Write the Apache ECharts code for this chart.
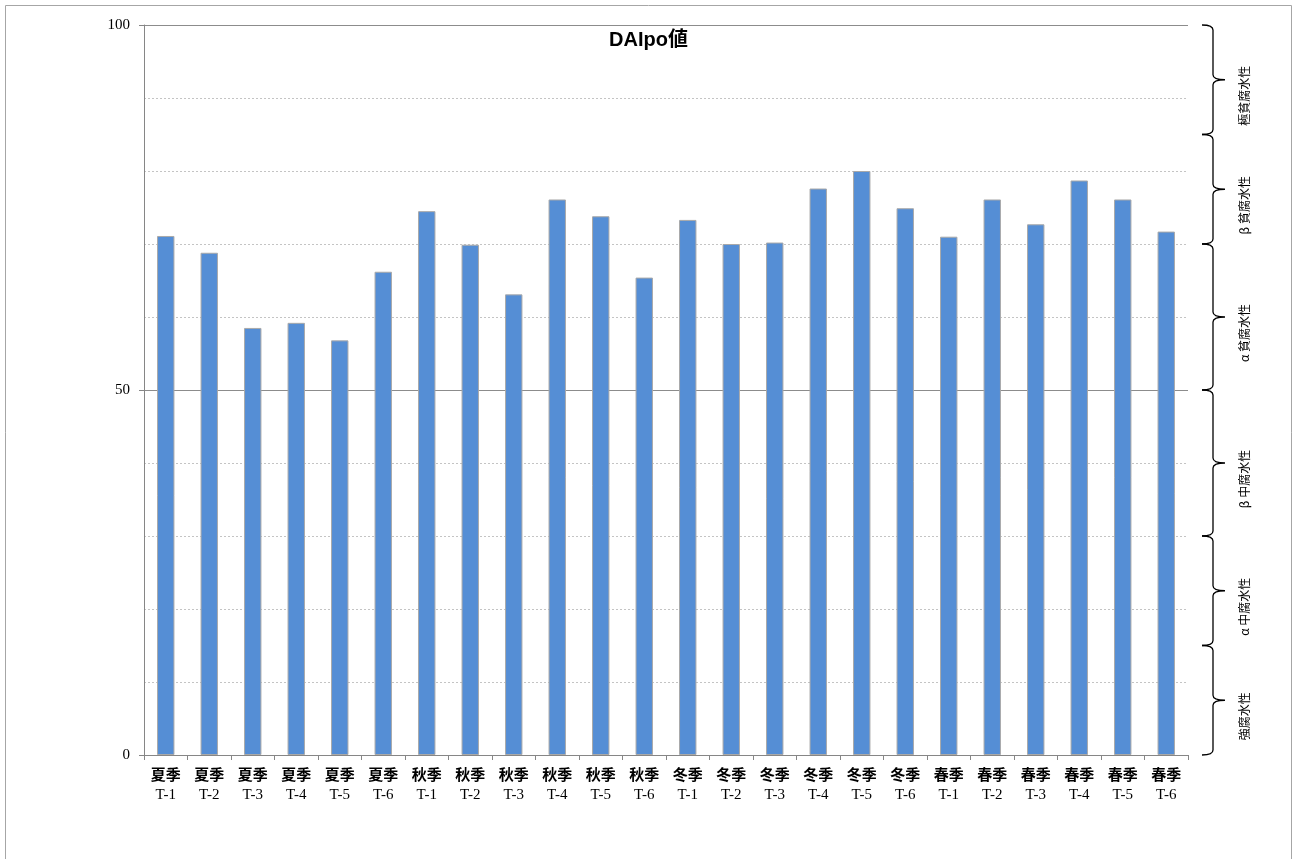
<!DOCTYPE html>
<html><head><meta charset="utf-8">
<script src="https://cdn.jsdelivr.net/npm/echarts@6/dist/echarts.min.js"></script>
<style>html,body{margin:0;padding:0;background:#fff}#c{width:1297px;height:859px}</style>
</head><body><div id="c"></div>
<script>
const seasons = ['夏季', '秋季', '冬季', '春季'];
const stations = ['T-1', 'T-2', 'T-3', 'T-4', 'T-5', 'T-6'];
const values = [
  71.1, 68.8, 58.5, 59.2, 56.8, 66.2,
  74.5, 69.9, 63.1, 76.1, 73.8, 65.4,
  73.3, 70.0, 70.2, 77.6, 80.0, 74.9,
  71.0, 76.1, 72.7, 78.7, 76.1, 71.7
];
const yTickLabels = [0, 50, 100];
const zoneBounds = [100, 85, 70, 50, 30, 15, 0];
const zoneNames = ['極貧腐水性', 'β 貧腐水性', 'α 貧腐水性', 'β 中腐水性', 'α 中腐水性', '強腐水性'];

const categories = [];
seasons.forEach(s => stations.forEach(t => categories.push(s + '\n' + t)));
const zoneData = [];
for (let i = 0; i < zoneNames.length; i++) zoneData.push([0, zoneBounds[i + 1], zoneBounds[i]]);

const chart = echarts.init(document.getElementById('c'), null, {renderer: 'canvas'});
chart.setOption({
  backgroundColor: '#ffffff',
  animation: false,
  title: {
    text: 'DAIpo値', left: 'center', top: 25,
    textStyle: {fontSize: 20, fontWeight: 'bold', color: '#000', fontFamily: '"Liberation Sans", "Noto Sans CJK JP", sans-serif'}
  },
  graphic: [{
    type: 'rect', silent: true, z: -10,
    shape: {x: 5.5, y: 5.5, width: 1286, height: 900},
    style: {fill: 'none', stroke: '#a6a6a6', lineWidth: 1}
  }],
  grid: {left: 144, right: 109, top: 25, bottom: 104, containLabel: false},
  xAxis: {
    type: 'category', data: categories,
    axisLine: {lineStyle: {color: '#868686', width: 1}},
    axisTick: {show: true, length: 5, lineStyle: {color: '#868686'}},
    axisLabel: {
      interval: 0, margin: 9,
      formatter: v => { const p = v.split('\n'); return '{a|' + p[0] + '}\n{b|' + p[1] + '}'; },
      rich: {
        a: {fontSize: 15, fontWeight: 'bold', fontFamily: '"Noto Sans CJK JP"', color: '#000', lineHeight: 21},
        b: {fontSize: 15, fontFamily: '"Liberation Serif", serif', color: '#000', lineHeight: 20}
      }
    }
  },
  yAxis: [{
    type: 'value', min: 0, max: 100, interval: 10, position: 'left',
    axisLine: {show: false}, axisTick: {show: false}, axisLabel: {show: false},
    splitLine: {show: true, lineStyle: {color: '#c4c4c4', type: [2, 2], width: 1}}
  }, {
    type: 'value', min: 0, max: 100, interval: 50, position: 'left',
    axisLine: {show: true, lineStyle: {color: '#868686', width: 1}},
    axisTick: {show: true, length: 5, lineStyle: {color: '#868686'}},
    axisLabel: {
      margin: 14, color: '#000', fontSize: 15, fontFamily: '"Liberation Serif", serif',
      formatter: v => (yTickLabels.indexOf(v) >= 0 ? String(v) : '')
    },
    splitLine: {show: true, lineStyle: {color: '#8c8c8c', width: 1}}
  }],
  series: [{
    type: 'bar', data: values, barWidth: '40%', yAxisIndex: 0,
    itemStyle: {color: '#558ed5', borderColor: '#a9a9a9', borderWidth: 1}
  }, {
    type: 'custom', data: zoneData, yAxisIndex: 0, silent: true, clip: false,
    encode: {x: 0, y: [1, 2]},
    renderItem: function (params, api) {
      const cs = params.coordSys;
      const yTop = api.coord([0, api.value(2)])[1];
      const yBot = api.coord([0, api.value(1)])[1];
      const yMid = (yTop + yBot) / 2;
      const bx = cs.x + cs.width + 25;
      const r = 5;
      const d = 'M' + (bx - 11) + ' ' + yTop + ' Q' + bx + ' ' + yTop + ' ' + bx + ' ' + (yTop + r) +
        ' L' + bx + ' ' + (yMid - r) + ' Q' + bx + ' ' + yMid + ' ' + (bx + 12) + ' ' + yMid +
        ' Q' + bx + ' ' + yMid + ' ' + bx + ' ' + (yMid + r) +
        ' L' + bx + ' ' + (yBot - r) + ' Q' + bx + ' ' + yBot + ' ' + (bx - 11) + ' ' + yBot;
      return {
        type: 'group',
        children: [{
          type: 'path', shape: {pathData: d},
          style: {fill: 'none', stroke: '#000', lineWidth: 1.3}
        }, {
          type: 'text', x: bx + 31, y: yMid + 16, rotation: Math.PI / 2,
          style: {
            text: zoneNames[params.dataIndex], font: '12px "Noto Sans CJK JP"',
            fill: '#000', align: 'center', verticalAlign: 'middle'
          }
        }]
      };
    }
  }]
});
</script></body></html>
